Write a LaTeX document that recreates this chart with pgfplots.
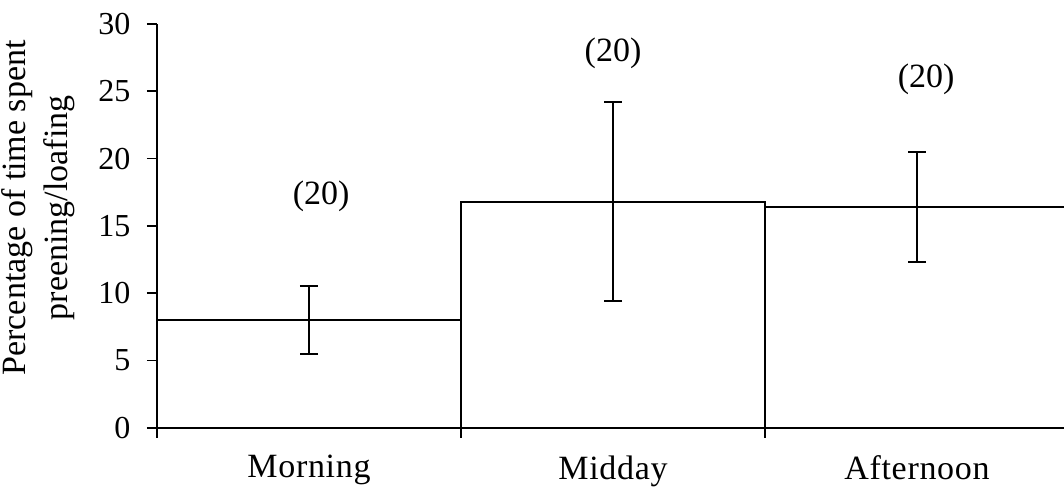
\documentclass[border=0pt]{standalone}
\usepackage{pgfplots}
\pgfplotsset{compat=1.18}
\usepackage{fontspec}
\setmainfont{Liberation Serif}

\begin{document}
\fontsize{17}{20}\selectfont
\begin{tikzpicture}
\useasboundingbox (-78.5pt,-32.65pt) rectangle (453.5pt,213.85pt);
\clip (-78.5pt,-32.65pt) rectangle (453.5pt,213.85pt);
\begin{axis}[
  at={(0,0)}, anchor=south west,
  scale only axis,
  width=456pt, height=201.85pt,
  xmin=0, xmax=3, ymin=0, ymax=30,
  axis x line*=bottom, axis y line*=left,
  axis line style={line width=1pt, -},
  xtick={0,1,2,3}, xticklabels={},
  extra x ticks={0.5,1.5,2.5},
  extra x tick labels={Morning,Midday,Afternoon},
  extra x tick style={major tick length=0pt,
    xticklabel style={yshift=-8pt, font=\fontsize{17}{20}\selectfont\addfontfeatures{LetterSpace=2}}},
  ytick={0,5,...,30},
  tick align=outside,
  major tick length=5pt,
  tick style={line width=0.8pt, black},
  yticklabel style={font=\fontsize{16}{19}\selectfont, xshift=-2.5pt},
  /pgf/number format/assume math mode=true,
  ylabel={Percentage of time spent\\preening/loafing},
  ylabel style={align=center, font=\fontsize{17}{21}\selectfont, xshift=9pt},
  clip=false,
]
\addplot[ybar, bar width=1, fill=white, draw=black, line width=1pt,
  error bars/.cd, y dir=both, y explicit,
  error bar style={line width=1pt, black},
  error mark options={rotate=90, mark size=4.5pt, line width=1pt, black}]
  coordinates {
    (0.5,8.0)  +- (0,2.5)
    (1.5,16.8) +- (0,7.4)
    (2.5,16.4) +- (0,4.1)
  };
\node[font=\fontsize{17}{20}\selectfont] at (axis cs:0.54,17.2) {(20)};
\node[font=\fontsize{17}{20}\selectfont] at (axis cs:1.50,27.8) {(20)};
\node[font=\fontsize{17}{20}\selectfont] at (axis cs:2.53,25.9) {(20)};
\end{axis}
\end{tikzpicture}
\end{document}
